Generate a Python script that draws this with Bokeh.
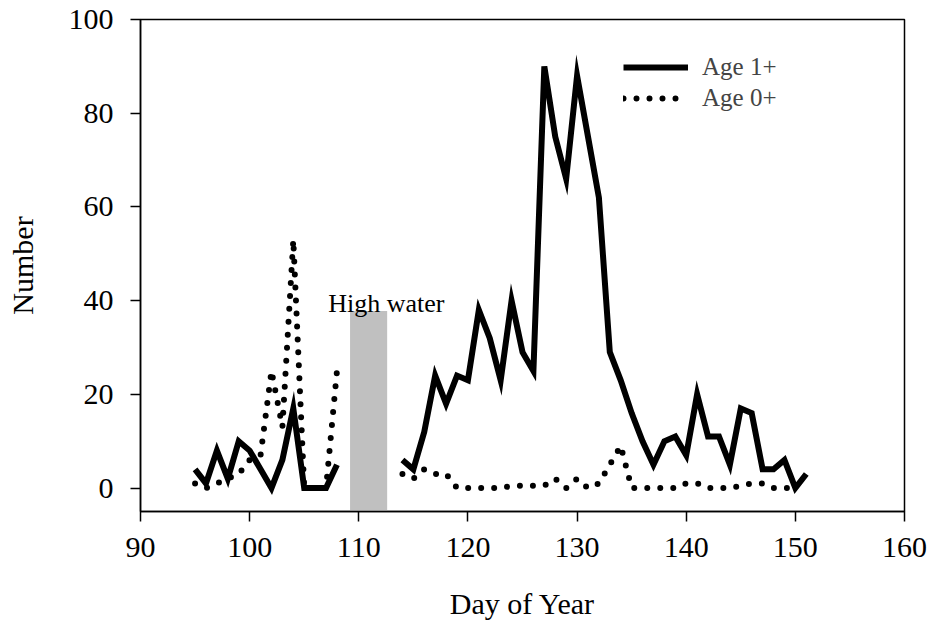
import numpy as np
from bokeh.plotting import figure
from bokeh.models import Range1d, FixedTicker, Legend, LegendItem, Label
from bokeh.embed import file_html
from bokeh.resources import INLINE

# ---- data ----
days_early = [95, 96, 97, 98, 99, 100, 101, 102, 103, 104, 105, 106, 107, 108]
age1_early = [4, 1, 8, 2, 10, 8, 4, 0, 6, 17, 0, 0, 0, 5]
age0_early = [1, 0, 1, 2, 3, 6, 7, 25, 13, 53, 0, 0, 0, 25]

days_late = [114, 115, 116, 117, 118, 119, 120, 121, 122, 123, 124, 125, 126,
             127, 128, 129, 130, 131, 132, 133, 134, 135, 136, 137, 138, 139,
             140, 141, 142, 143, 144, 145, 146, 147, 148, 149, 150, 151]
age1_late = [6, 4, 12, 24, 18, 24, 23, 38, 32, 23, 40, 29, 25,
             90, 75, 66, 88, 75, 62, 29, 23, 16, 10, 5, 10, 11,
             7, 20, 11, 11, 5, 17, 16, 4, 4, 6, 0, 3]
days_late0 = days_late[:-1]
age0_late = [3, 2, 4, 3, 3, 0, 0, 0, 0, 0, 0.5, 0.5, 0.5,
             0.5, 2, 0, 2, 0, 1, 5, 9, 0, 0, 0, 0, 0,
             1, 1, 0, 0, 0, 0.5, 1, 1, 0, 0, 0]

x_ticks = [90, 100, 110, 120, 130, 140, 150, 160]
y_ticks = [0, 20, 40, 60, 80, 100]

high_water_start = 109.2
high_water_end = 112.6
high_water_top = 37.8
high_water_label = "High water"
high_water_label_x = 107.2
high_water_label_y = 39.4

# ---- combine segments with a gap ----
age1_x = days_early + [np.nan] + days_late
age1_y = age1_early + [np.nan] + age1_late
age0_x = days_early + [np.nan] + days_late0
age0_y = age0_early + [np.nan] + age0_late

FONT = "Liberation Serif"

p = figure(width=929, height=622, output_backend="svg", toolbar_location=None,
           x_range=Range1d(90, 160), y_range=Range1d(-5, 100),
           min_border_left=140, min_border_right=25, min_border_top=19,
           min_border_bottom=111)
p.background_fill_color = "white"
p.border_fill_color = "white"
p.outline_line_color = "black"
p.outline_line_width = 1.5
p.xgrid.visible = False
p.ygrid.visible = False

p.quad(left=[high_water_start], right=[high_water_end], bottom=[-5],
       top=[high_water_top], fill_color="#c0c0c0", line_color=None)

r1 = p.line(age1_x, age1_y, line_color="black", line_width=6, line_join="miter")
r0 = p.line(age0_x, age0_y, line_color="black", line_width=6,
            line_dash="0 13", line_cap="round")

p.add_layout(Label(x=high_water_label_x, y=high_water_label_y, text=high_water_label,
                   text_font=FONT, text_font_size="26px", text_color="black",
                   text_baseline="alphabetic"))

for ax in (p.xaxis[0], p.yaxis[0]):
    ax.axis_line_width = 1.5
    ax.axis_line_color = "black"
    ax.major_tick_line_width = 1.5
    ax.major_tick_out = 10
    ax.major_tick_in = 0
    ax.minor_tick_out = 0
    ax.minor_tick_in = 0
    ax.major_label_text_font = FONT
    ax.major_label_text_font_size = "30px"
    ax.major_label_text_color = "black"
    ax.axis_label_text_font = FONT
    ax.axis_label_text_font_size = "30px"
    ax.axis_label_text_font_style = "normal"
    ax.axis_label_text_color = "black"

p.xaxis.ticker = FixedTicker(ticks=x_ticks)
p.yaxis.ticker = FixedTicker(ticks=y_ticks)
p.xaxis.axis_label = "Day of Year"
p.yaxis.axis_label = "Number"
p.xaxis.major_label_standoff = 16
p.yaxis.major_label_standoff = 17
p.xaxis.axis_label_standoff = 27
p.yaxis.axis_label_standoff = 27

legend = Legend(items=[LegendItem(label="Age 1+", renderers=[r1]),
                       LegendItem(label="Age 0+", renderers=[r0])],
                location=(483, 399), border_line_color=None,
                background_fill_alpha=0, padding=0, margin=0, spacing=3,
                glyph_width=65, glyph_height=20, label_standoff=14,
                label_text_font=FONT, label_text_font_size="25px",
                label_height=20)
p.add_layout(legend)

open("out.html", "w").write(file_html(p, INLINE))
